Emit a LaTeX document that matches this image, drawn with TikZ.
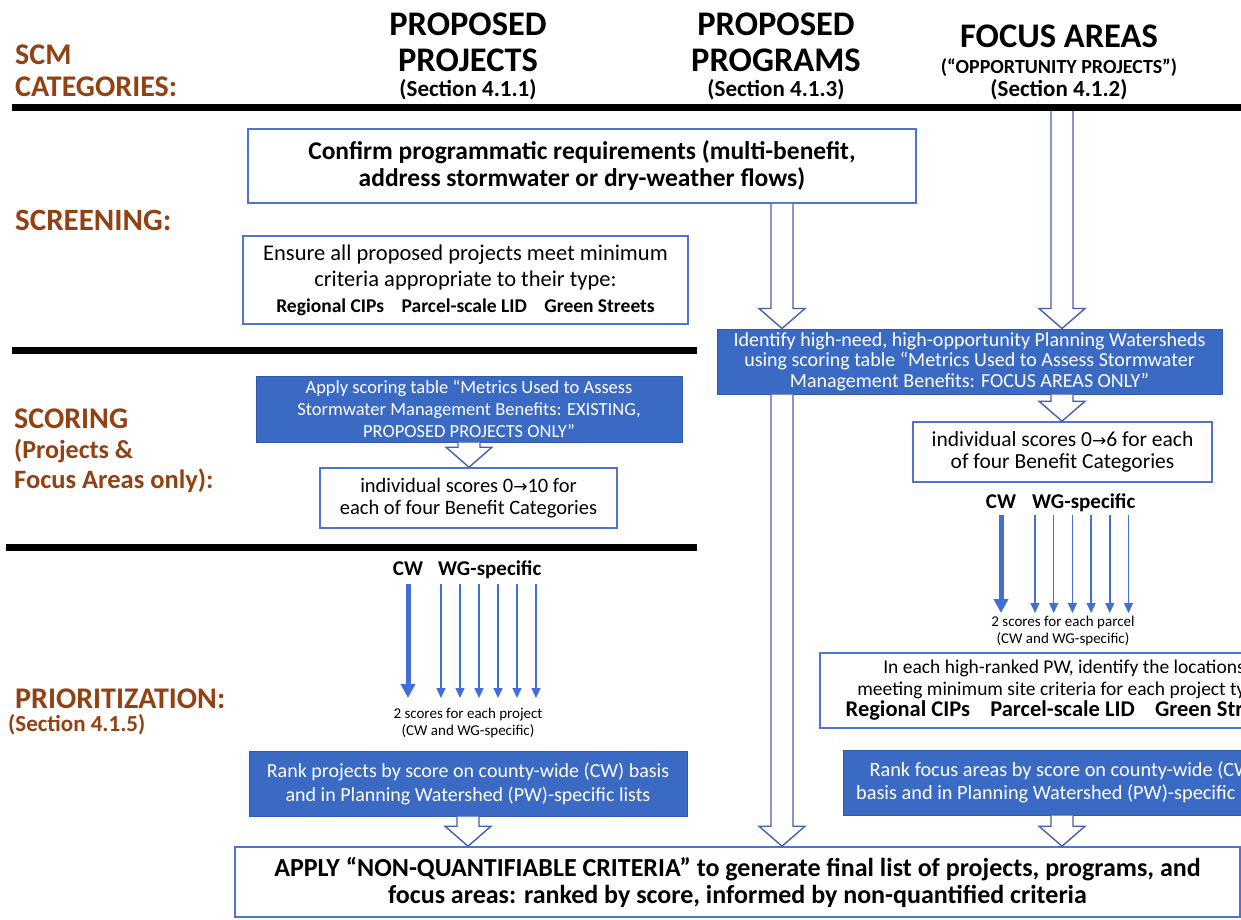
\documentclass[tikz,border=0pt]{standalone}
\usepackage{fontspec}
\setmainfont{Carlito}
\newfontfamily\arrowFont{DejaVu Sans}
\usetikzlibrary{calc,arrows.meta,positioning}
\definecolor{brownLab}{RGB}{146,66,18}
\definecolor{blueFill}{RGB}{58,106,196}
\definecolor{boxLine}{RGB}{80,115,205}
\definecolor{arrowLine}{RGB}{70,95,175}
\definecolor{scoreBlue}{RGB}{65,110,215}
\tikzstyle{whiteBox} = [draw=boxLine,line width=1.6pt,fill=white,align=center,inner sep=0pt]
\tikzstyle{blueBox} = [draw=blueFill!85!black,line width=1pt,fill=blueFill,text=white,align=center,inner sep=0pt]
\tikzstyle{catLabel} = [text=brownLab,font=\bfseries\fontsize{30}{32}\selectfont,anchor=base west,inner sep=0pt]
\tikzstyle{colHead} = [font=\bfseries\fontsize{34.5}{36}\selectfont,anchor=base,inner sep=0pt]
\tikzstyle{secNum} = [font=\bfseries\fontsize{23}{24}\selectfont,anchor=base,inner sep=0pt]
\tikzstyle{sectionRule} = [line width=7pt]
\tikzstyle{hollowArrow} = [draw=arrowLine,line width=1.4pt,fill=white,line join=miter]
\tikzstyle{cwArrow} = [draw=scoreBlue,line width=5pt,-{Triangle[width=14pt,length=14pt]}]
\tikzstyle{wgArrow} = [draw=scoreBlue,line width=1.4pt,-{Triangle[width=9pt,length=10pt]}]
\tikzstyle{scoreHead} = [font=\bfseries\fontsize{21}{22}\selectfont,anchor=base,inner sep=0pt]
\tikzstyle{scoreNote} = [font=\fontsize{15}{16.5}\selectfont,align=center,anchor=north,inner sep=0pt]
\newcommand{\toArrow}{{\arrowFont\fontsize{17}{17}\selectfont →}}
\newcommand{\blockArrow}[2]{%
	\draw[hollowArrow] let \p1=(#1), \p2=(#2) in
		(\x1-11pt,\y1) -- (\x1-11pt,\y2+20pt) -- (\x1-23pt,\y2+20pt) -- (\x1,\y2)
		-- (\x1+23pt,\y2+20pt) -- (\x1+11pt,\y2+20pt) -- (\x1+11pt,\y1);}

\begin{document}
\begin{tikzpicture}[x=1pt,y=-1pt]
			\useasboundingbox (0,0) rectangle (1241,920);
			\clip (0,0) rectangle (1241,920);
			\fill[white] (0,0) rectangle (1241,920);
			
			\node[catLabel] (scm) at (15,65) {SCM};
			\node[catLabel] (categ) at (15,97) {CATEGORIES:};
			\node[catLabel,font=\bfseries\fontsize{31}{32}\selectfont] (screen) at (15,230) {SCREENING:};
			\node[catLabel] (scoring) at (14,428) {SCORING};
			\node[catLabel,font=\bfseries\fontsize{26}{30}\selectfont] (scoringA) at (14,458) {(Projects \&};
			\node[catLabel,font=\bfseries\fontsize{26.5}{30}\selectfont] (scoringB) at (14,488) {Focus Areas only):};
			\node[catLabel] (prior) at (15,708) {PRIORITIZATION:};
			\node[catLabel,font=\bfseries\fontsize{23}{24}\selectfont] (priorSec) at (8,731) {(Section 4.1.5)};
			
			\node[colHead] (projA) at (468,36) {PROPOSED};
			\node[colHead] (projB) at (468,72) {PROJECTS};
			\node[secNum] (projC) at (468,97) {(Section 4.1.1)};
			\node[colHead] (progA) at (776,36) {PROPOSED};
			\node[colHead] (progB) at (776,72) {PROGRAMS};
			\node[secNum] (progC) at (776,97) {(Section 4.1.3)};
			\node[colHead] (focA) at (1059,48) {FOCUS AREAS};
			\node[secNum,font=\bfseries\fontsize{20}{22}\selectfont] (focB) at (1059,74) {(“OPPORTUNITY PROJECTS”)};
			\node[secNum] (focC) at (1059,97) {(Section 4.1.2)};
			
			\coordinate (ruleA) at (12,108);
			\coordinate (ruleB) at (1241,108);
			\coordinate (ruleC) at (12,350);
			\coordinate (ruleD) at (697,350);
			\coordinate (ruleE) at (6,547);
			\coordinate (ruleF) at (697,547);
			\coordinate (progX) at (782,0);
			\coordinate (focusX) at (1062,0);
			
			\node[whiteBox,minimum width=668pt,minimum height=74pt,font=\bfseries\fontsize{25.5}{27}\selectfont] (confirm) at (582,166)
				{Confirm programmatic requirements (multi-benefit,\\address stormwater or dry-weather flows)};
			\node[whiteBox,minimum width=445pt,minimum height=88pt,font=\fontsize{22.5}{26}\selectfont] (ensure) at (465.5,280)
				{Ensure all proposed projects meet minimum\\criteria appropriate to their type:\\
				{\bfseries\fontsize{19.5}{27}\selectfont Regional CIPs\hspace{0.9em}Parcel-scale LID\hspace{0.9em}Green Streets}};
			\node[blueBox,minimum width=505pt,minimum height=65pt,font=\fontsize{20}{20.5}\selectfont] (identify) at (969.5,361.5)
				{Identify high-need, high-opportunity Planning Watersheds\\using scoring table “Metrics Used to Assess Stormwater\\Management Benefits: FOCUS AREAS ONLY”};
			\node[blueBox,minimum width=426pt,minimum height=66pt,font=\fontsize{18.5}{22}\selectfont] (apply) at (469,409)
				{Apply scoring table “Metrics Used to Assess\\Stormwater Management Benefits: EXISTING,\\PROPOSED PROJECTS ONLY”};
			\node[whiteBox,minimum width=297pt,minimum height=60pt,font=\fontsize{20.5}{22}\selectfont] (ind10) at (468.5,498)
				{individual scores 0\toArrow10 for\\each of four Benefit Categories};
			\node[whiteBox,minimum width=299pt,minimum height=60pt,font=\fontsize{21.5}{22}\selectfont] (ind6) at (1062.5,452)
				{individual scores 0\toArrow6 for each\\of four Benefit Categories};
			\node[whiteBox,minimum width=488pt,minimum height=75pt,font=\fontsize{19.5}{21.5}\selectfont] (inEach) at (1064,690.5)
				{In each high-ranked PW, identify the locations\\meeting minimum site criteria for each project type:\\
				{\bfseries\fontsize{22.5}{24}\selectfont Regional CIPs\hspace{0.9em}Parcel-scale LID\hspace{0.9em}Green Streets}};
			\node[blueBox,minimum width=438pt,minimum height=65pt,font=\fontsize{20}{24}\selectfont] (rankP) at (468,783.5)
				{Rank projects by score on county-wide (CW) basis\\and in Planning Watershed (PW)-specific lists};
			\node[blueBox,minimum width=442pt,minimum height=65pt,font=\fontsize{20.3}{22.5}\selectfont] (rankF) at (1064,782.5)
				{Rank focus areas by score on county-wide (CW)\\basis and in Planning Watershed (PW)-specific lists};
			\node[whiteBox,minimum width=1005pt,minimum height=70pt,font=\bfseries\fontsize{26}{27}\selectfont] (final) at (737.5,882)
				{APPLY “NON-QUANTIFIABLE CRITERIA” to generate final list of projects, programs, and\\focus areas: ranked by score, informed by non-quantified criteria};
			
			\node[scoreHead] (cwL) at (408,575) {CW};
			\node[scoreHead,anchor=base west] (wgL) at (438,575) {WG-specific};
			\node[scoreNote] (scoreL) at (468,708) {2 scores for each project\\(CW and WG-specific)};
			\node[scoreHead] (cwR) at (1001,508) {CW};
			\node[scoreHead,anchor=base west] (wgR) at (1032,508) {WG-specific};
			\node[scoreNote] (scoreR) at (1063,616) {2 scores for each parcel\\(CW and WG-specific)};
			
			\draw[cwArrow] ($(cwL.base)+(0,9)$) -- ($(cwL.base |- scoreL.north)+(0,-10)$);
			\foreach \k in {0,...,5}
				\draw[wgArrow] ($(wgL.base west)+(3+19*\k,9)$) -- ($(wgL.base west |- scoreL.north)+(3+19*\k,-10)$);
			\draw[cwArrow] ($(cwR.base)+(0,7)$) -- ($(cwR.base |- scoreR.north)+(0,-3)$);
			\foreach \k in {0,...,5}
				\draw[wgArrow] ($(wgR.base west)+(3+18.7*\k,7)$) -- ($(wgR.base west |- scoreR.north)+(3+18.7*\k,-3)$);
			
			\blockArrow{confirm.south -| progX}{identify.north -| progX}
			\blockArrow{ruleA -| focusX}{identify.north -| focusX}
			\blockArrow{identify.south -| progX}{final.north -| progX}
			\blockArrow{identify.south -| focusX}{ind6.north -| focusX}
			\blockArrow{rankF.south -| focusX}{final.north -| focusX}
			\blockArrow{apply.south}{ind10.north}
			\blockArrow{rankP.south}{final.north -| rankP.south}
			
			\draw[sectionRule] (ruleA) -- (ruleB);
			\draw[sectionRule] (ruleC) -- (ruleD);
			\draw[sectionRule] (ruleE) -- (ruleF);
		\end{tikzpicture}
\end{document}
